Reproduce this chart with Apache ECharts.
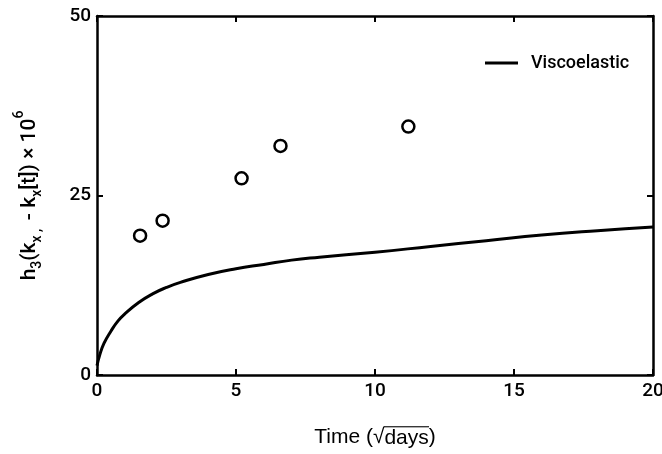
<!DOCTYPE html>
<html><head><meta charset="utf-8">
<script src="https://cdn.jsdelivr.net/npm/echarts@6/dist/echarts.min.js"></script>
<style>html,body{margin:0;padding:0;background:#fff}#c{width:662px;height:454px}</style>
</head><body><div id="c"></div>
<script>
// Data
const curveX = [0, 0.1, 0.25, 0.5, 0.75, 1, 1.5, 2, 2.5, 3, 4, 5, 6, 7, 8, 10, 12, 14, 16, 18, 20];
const curveY = [1.3, 2.8, 4.4, 6.1, 7.5, 8.5, 10.1, 11.3, 12.2, 12.9, 14.0, 14.8, 15.4, 16.0, 16.4, 17.1, 17.9, 18.7, 19.5, 20.1, 20.6];
const obsX = [1.55, 2.36, 5.2, 6.6, 11.2];
const obsY = [19.4, 21.5, 27.4, 31.9, 34.6];
const xTicks = [0, 5, 10, 15, 20];
const yTicks = [0, 25, 50];
const seriesName = 'Viscoelastic';

// small image used as an overline (vinculum) behind "days"
const bar = document.createElement('canvas');
bar.width = 4; bar.height = 22;
const bctx = bar.getContext('2d');
bctx.fillStyle = '#000';
bctx.fillRect(0, 0, 4, 1.5);

const chart = echarts.init(document.getElementById('c'), null, {renderer: 'canvas'});
const font = 'Roboto, Liberation Sans, Arial, sans-serif';
const font2 = 'Liberation Sans, Arial, sans-serif';
const axisLine = {show: true, onZero: false, lineStyle: {color: '#000', width: 2.5}};
const tick = {show: true, inside: true, length: 6, lineStyle: {color: '#000', width: 2}};
const label = {color: '#000', fontSize: 19, fontFamily: font, fontWeight: 500};

chart.setOption({
  animation: false,
  backgroundColor: '#fff',
  grid: {left: 97, right: 9, top: 16, bottom: 79, containLabel: false, outerBoundsMode: 'none'},
  legend: {
    left: 480, top: 49,
    itemWidth: 33, itemHeight: 3, itemGap: 10,
    textStyle: {color: '#000', fontSize: 18, fontFamily: font, fontWeight: 500, padding: [0, 0, 0, 8]},
    data: [{name: seriesName, icon: 'rect'}]
  },
  xAxis: [{
    type: 'value', min: xTicks[0], max: xTicks[xTicks.length - 1], interval: 5,
    axisLine: axisLine, axisTick: tick, splitLine: {show: false},
    axisLabel: Object.assign({margin: 7}, label),
    name: '{a|Time (√}{o|days}{a|)}', nameLocation: 'middle', nameGap: 50,
    nameTextStyle: {
      color: '#000', fontSize: 21, fontFamily: font2,
      rich: {
        a: {fontSize: 21, fontFamily: font2, color: '#000', lineHeight: 24},
        o: {fontSize: 21, fontFamily: font2, color: '#000', lineHeight: 19, padding: [2, 0, 0, 0],
            backgroundColor: {image: bar}}
      }
    }
  }, {
    type: 'value', position: 'top', min: xTicks[0], max: xTicks[xTicks.length - 1], interval: 5,
    axisLine: axisLine, axisTick: tick, splitLine: {show: false}, axisLabel: {show: false}
  }],
  yAxis: [{
    type: 'value', min: yTicks[0], max: yTicks[yTicks.length - 1], interval: 25,
    axisLine: axisLine, axisTick: tick, splitLine: {show: false},
    axisLabel: Object.assign({margin: 6}, label),
    name: '{n|h}{s|3}{n|(k}{s|x , }{n| - k}{s|x}{n|[t]) × 10}{p|6}',
    nameLocation: 'middle', nameGap: 57, nameRotate: 90,
    nameTextStyle: {
      color: '#000', fontFamily: font,
      rich: {
        n: {fontSize: 21, fontFamily: font, fontWeight: 500, color: '#000', lineHeight: 26, verticalAlign: 'bottom'},
        s: {fontSize: 14, fontFamily: font, fontWeight: 500, color: '#000', lineHeight: 26, verticalAlign: 'bottom', padding: [0, 0, -4, 0]},
        p: {fontSize: 14, fontFamily: font, fontWeight: 500, color: '#000', lineHeight: 26, verticalAlign: 'top', padding: [-2, 0, 0, 0]}
      }
    }
  }, {
    type: 'value', position: 'right', min: yTicks[0], max: yTicks[yTicks.length - 1], interval: 25,
    axisLine: axisLine, axisTick: tick, splitLine: {show: false}, axisLabel: {show: false}
  }],
  series: [{
    name: seriesName, type: 'line', smooth: true, symbol: 'none',
    lineStyle: {color: '#000', width: 3}, itemStyle: {color: '#000'},
    data: curveX.map((x, i) => [x, curveY[i]])
  }, {
    name: 'Observed', type: 'scatter', symbol: 'circle', symbolSize: 12,
    itemStyle: {color: '#fff', borderColor: '#000', borderWidth: 2.5, opacity: 1},
    data: obsX.map((x, i) => [x, obsY[i]])
  }]
});
</script></body></html>
